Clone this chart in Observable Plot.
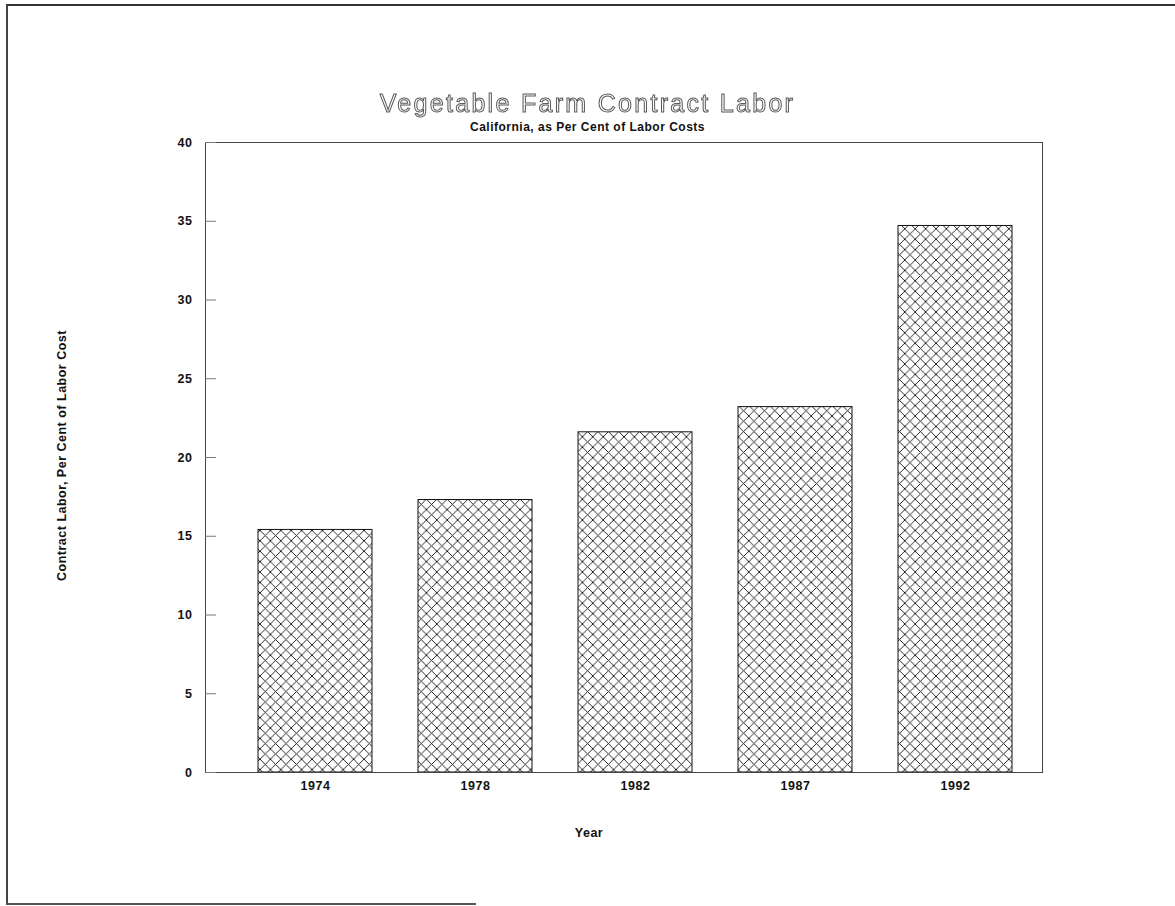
<!DOCTYPE html>
<html>
<head>
<meta charset="utf-8">
<script src="https://cdn.jsdelivr.net/npm/d3@7"></script>
<script src="https://cdn.jsdelivr.net/npm/@observablehq/plot@0.6"></script>
<style>
  html, body { margin: 0; padding: 0; background: #fff; }
  #page {
    position: relative; width: 1175px; height: 906px; overflow: hidden;
    font-family: "Liberation Sans", Arial, sans-serif; color: #111;
  }
  #border {
    position: absolute; left: 6px; top: 4px; width: 1175px; height: 899px;
    border-top: 2px solid #333; border-left: 2px solid #444;
  }
  #border-bottom {
    position: absolute; left: 6px; top: 903px; width: 470px; height: 0;
    border-top: 2px solid #555;
  }
  #title {
    position: absolute; left: 0; width: 1175px; top: 89px; text-align: center;
    font-size: 25px; letter-spacing: 2.3px; color: #fff;
    -webkit-text-stroke: 1px #5a5a5a; will-change: transform;
  }
  #subtitle {
    position: absolute; left: 0; width: 1175px; top: 120px; text-align: center;
    font-size: 12px; font-weight: bold; letter-spacing: 0.5px;
  }
  #chart { position: absolute; left: 0; top: 0; }
</style>
</head>
<body>
<div id="page">
  <svg width="0" height="0" style="position:absolute">
    <defs>
      <pattern id="crosshatch" patternUnits="userSpaceOnUse" width="10.4" height="10.4">
        <path d="M-1,-1 L11.4,11.4 M11.4,-1 L-1,11.4" stroke="#111" stroke-width="0.9" fill="none"/>
      </pattern>
    </defs>
  </svg>
  <div id="border"></div>
  <div id="border-bottom"></div>
  <div id="chart"></div>
  <div id="title">Vegetable Farm Contract Labor</div>
  <div id="subtitle">California, as Per Cent of Labor Costs</div>
</div>
<script>
// Contract labor share of vegetable farm labor costs, California
const years = ["1974", "1978", "1982", "1987", "1992"];
const shares = [15.4, 17.3, 21.6, 23.2, 34.7];
const yTicks = [0, 5, 10, 15, 20, 25, 30, 35, 40];
const xTitle = "Year";
const yTitle = "Contract Labor, Per Cent of Labor Cost";

const rows = years.map((year, i) => ({year, share: shares[i]}));

const chart = Plot.plot({
  width: 1175,
  height: 906,
  marginLeft: 205,
  marginRight: 133,
  marginTop: 142,
  marginBottom: 134,
  style: {fontFamily: "Liberation Sans, Arial, sans-serif", fontWeight: "bold", color: "#111", background: "transparent", letterSpacing: "0.5px"},
  x: {domain: years, paddingInner: 0.289, paddingOuter: 0.256, align: 0.634},
  y: {domain: [0, 40]},
  marks: [
    Plot.barY(rows, {x: "year", y: "share", fill: "url(#crosshatch)", stroke: "#111", strokeWidth: 1}),
    Plot.frame({stroke: "#444", strokeWidth: 1}),
    Plot.axisY({
      ticks: yTicks, tickSize: -11, tickPadding: 24, stroke: "#777",
      fontSize: 12.5, label: null
    }),
    Plot.axisX({tickSize: 0, tickPadding: 9, fontSize: 12.5, label: null}),
    // axis titles
    Plot.text([xTitle], {frameAnchor: "bottom", text: d => d, dx: -35, dy: 64, fontSize: 12.5}),
    Plot.text([yTitle], {frameAnchor: "left", textAnchor: "middle", text: d => d, rotate: -90, dx: -144, dy: -2, fontSize: 12.5})
  ]
});
document.getElementById("chart").appendChild(chart);
</script>
</body>
</html>
